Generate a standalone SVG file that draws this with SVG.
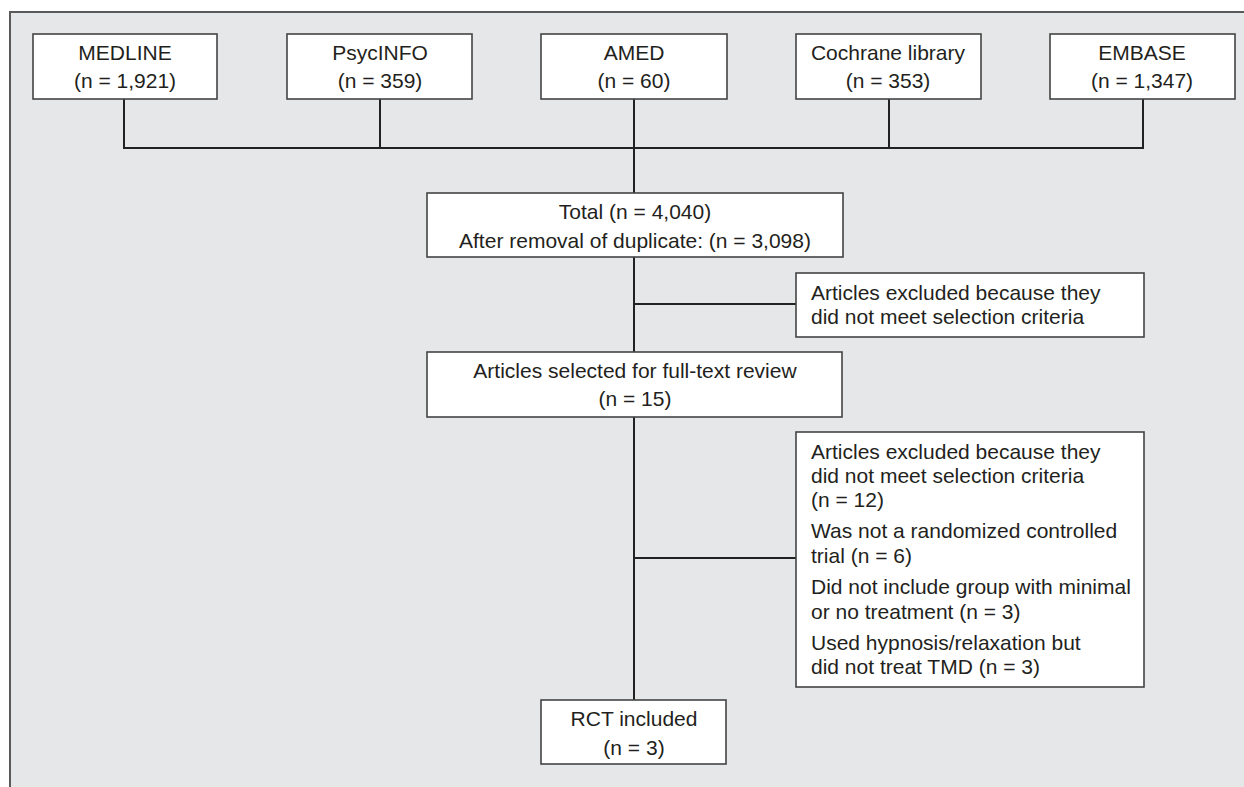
<svg xmlns="http://www.w3.org/2000/svg" width="1244" height="787" viewBox="0 0 1244 787">
<style>
.bg{fill:#e6e7e9}
.frame{fill:none;stroke:#5a5a5a;stroke-width:2}
.box{fill:#fff;stroke:#444;stroke-width:1.6}
.ln{fill:none;stroke:#222;stroke-width:2}
text{font-family:"Liberation Sans",Arial,sans-serif;font-size:21px;fill:#231f20}
.c{text-anchor:middle}
</style>
<rect class="bg" x="0" y="0" width="1244" height="787"/>
<rect x="0" y="0" width="1244" height="12" fill="#fff"/>
<rect x="0" y="0" width="10" height="787" fill="#fff"/>
<path class="frame" d="M10,787 V12 H1244"/>
<g id="connectors">
<path class="ln" d="M124,99 V148 H1143 V99"/>
<path class="ln" d="M380,99 V148"/>
<path class="ln" d="M634,99 V193"/>
<path class="ln" d="M889,99 V148"/>
<path class="ln" d="M634,257 V352"/>
<path class="ln" d="M634,304 H796"/>
<path class="ln" d="M634,417 V700"/>
<path class="ln" d="M634,558 H796"/>
</g>
<g id="medline"><rect class="box" x="33" y="34" width="184" height="65"/><text class="c" x="125" y="60">MEDLINE</text><text class="c" x="125" y="88">(n = 1,921)</text></g>
<g id="psycinfo"><rect class="box" x="287" y="34" width="185" height="65"/><text class="c" x="380" y="60">PsycINFO</text><text class="c" x="380" y="88">(n = 359)</text></g>
<g id="amed"><rect class="box" x="541" y="34" width="186" height="65"/><text class="c" x="634" y="60">AMED</text><text class="c" x="634" y="88">(n = 60)</text></g>
<g id="cochrane"><rect class="box" x="796" y="34" width="185" height="65"/><text class="c" x="888" y="60">Cochrane library</text><text class="c" x="888" y="88">(n = 353)</text></g>
<g id="embase"><rect class="box" x="1050" y="34" width="185" height="65"/><text class="c" x="1142" y="60">EMBASE</text><text class="c" x="1142" y="88">(n = 1,347)</text></g>
<g id="total"><rect class="box" x="427" y="193" width="416" height="64"/><text class="c" x="635" y="219">Total (n = 4,040)</text><text class="c" x="635" y="248">After removal of duplicate: (n = 3,098)</text></g>
<g id="excluded1"><rect class="box" x="796" y="273" width="348" height="64"/><text x="811" y="300">Articles excluded because they</text><text x="811" y="324">did not meet selection criteria</text></g>
<g id="fulltext"><rect class="box" x="427" y="352" width="415" height="65"/><text class="c" x="635" y="378">Articles selected for full-text review</text><text class="c" x="635" y="406">(n = 15)</text></g>
<g id="excluded2"><rect class="box" x="796" y="432" width="348" height="255"/>
<text x="811" y="459">Articles excluded because they</text>
<text x="811" y="483">did not meet selection criteria</text>
<text x="811" y="507">(n = 12)</text>
<text x="811" y="538">Was not a randomized controlled</text>
<text x="811" y="563">trial (n = 6)</text>
<text x="811" y="594">Did not include group with minimal</text>
<text x="811" y="619">or no treatment (n = 3)</text>
<text x="811" y="650">Used hypnosis/relaxation but</text>
<text x="811" y="674">did not treat TMD (n = 3)</text>
</g>
<g id="rct"><rect class="box" x="541" y="700" width="185" height="64"/><text class="c" x="634" y="726">RCT included</text><text class="c" x="634" y="755">(n = 3)</text></g>
</svg>
